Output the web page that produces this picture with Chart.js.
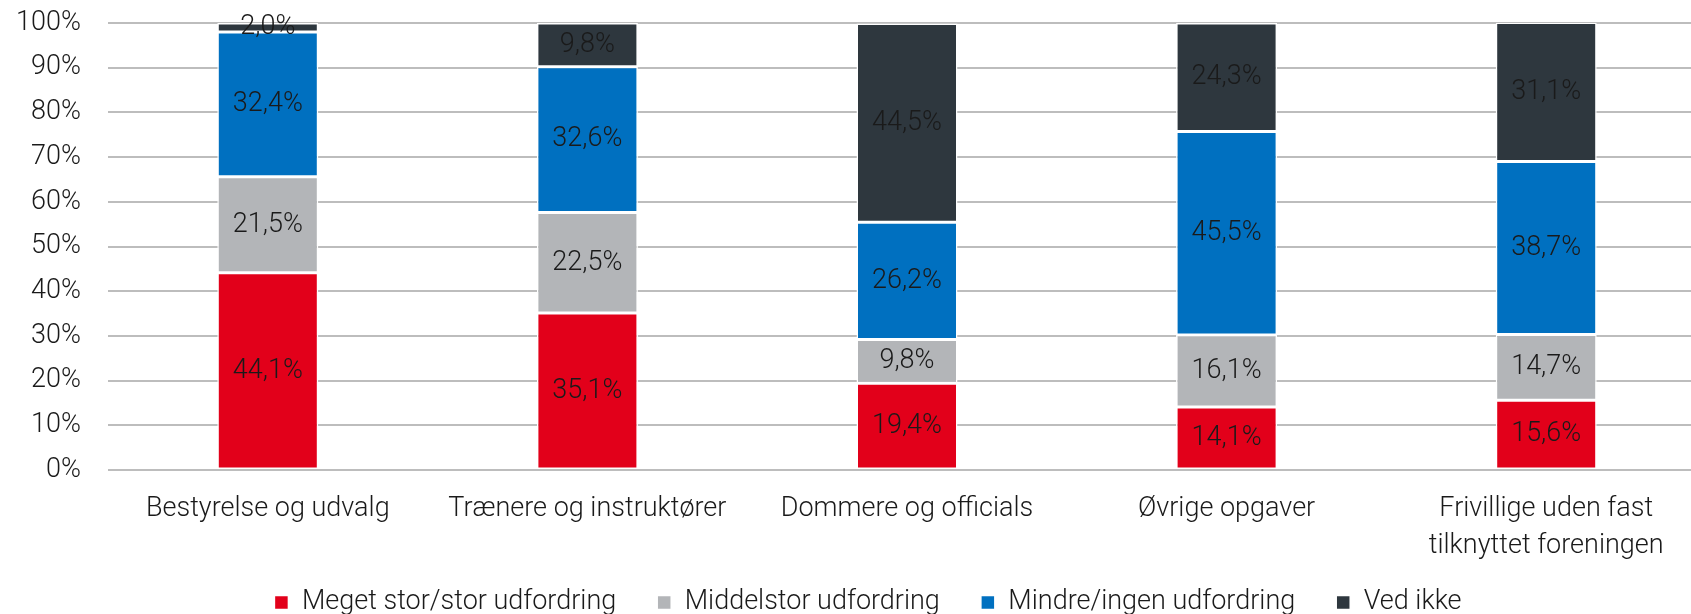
<!DOCTYPE html>
<html>
<head>
<meta charset="utf-8">
<script src="https://cdn.jsdelivr.net/npm/chart.js@4.4.1/dist/chart.umd.min.js"></script>
<style>
  html, body { margin: 0; padding: 0; background: #fff; overflow: hidden; }
  #wrap { width: 1706px; height: 614px; }
</style>
</head>
<body>
<div id="wrap"><canvas id="chart"></canvas></div>
<script>
const categories = [
  "Bestyrelse og udvalg",
  "Trænere og instruktører",
  "Dommere og officials",
  "Øvrige opgaver",
  ["Frivillige uden fast", "tilknyttet foreningen"]
];
const seriesNames = ["Meget stor/stor udfordring", "Middelstor udfordring", "Mindre/ingen udfordring", "Ved ikke"];
const storStor = [44.1, 35.1, 19.4, 14.1, 15.6];
const middelstor = [21.5, 22.5, 9.8, 16.1, 14.7];
const mindreIngen = [32.4, 32.6, 26.2, 45.5, 38.7];
const vedIkke = [2.0, 9.8, 44.5, 24.3, 31.1];
const colors = ["#e2001a", "#b3b5b8", "#0070c0", "#2e373e"];

const FONT = "Roboto";
const SIZE = 27;
const WEIGHT = 300;
const TEXT = "#1a1a1a";

const fmt = v => v.toFixed(1).replace(".", ",") + "%";

/* etiketter midt i hvert segment */
const segmentLabels = {
  id: "segmentLabels",
  beforeDraw(chart) {
    // lad aksens etiketter gå ud over aksens egen boks (to-linjers etiket)
    chart.scales.x._computeLabelArea = () => undefined;
  },
  afterDatasetsDraw(chart) {
    const ctx = chart.ctx;
    ctx.save();
    ctx.font = `${WEIGHT} ${SIZE}px ${FONT}`;
    ctx.fillStyle = TEXT;
    ctx.textAlign = "center";
    ctx.textBaseline = "middle";
    chart.data.datasets.forEach((ds, i) => {
      chart.getDatasetMeta(i).data.forEach((bar, j) => {
        const y = (bar.y + bar.base) / 2;
        ctx.fillText(fmt(ds.data[j]), bar.x, y);
      });
    });
    ctx.restore();
  }
};

/* legenden: bred vandret afstand, men lav højde */
const legendHeight = {
  id: "legendHeight",
  beforeInit(chart) {
    const legend = chart.legend;
    const fit = legend.fit;
    legend.fit = function () {
      fit.call(this);
      this.height = 66;
    };
    const draw = legend.draw;
    legend.draw = function () {
      this.ctx.save();
      this.ctx.translate(15, 0);
      draw.call(this);
      this.ctx.restore();
    };
  }
};

const series = [storStor, middelstor, mindreIngen, vedIkke];

new Chart(document.getElementById("chart"), {
  type: "bar",
  data: {
    labels: categories,
    datasets: series.map((d, i) => ({
      label: seriesNames[i],
      data: d,
      backgroundColor: colors[i],
      borderColor: "#ffffff",
      borderWidth: 1.5,
      borderSkipped: false,
      barPercentage: 0.316,
      categoryPercentage: 1
    }))
  },
  options: {
    animation: false,
    responsive: true,
    maintainAspectRatio: false,
    layout: { padding: { top: 23, left: 0, right: 0, bottom: 0 } },
    plugins: {
      tooltip: { enabled: false },
      legend: {
        position: "bottom",
        labels: {
          font: { family: FONT, size: SIZE, weight: WEIGHT },
          color: TEXT,
          boxWidth: 14,
          boxHeight: 14,
          padding: 41
        }
      }
    },
    scales: {
      x: {
        stacked: true,
        grid: { display: false, drawTicks: false },
        border: { display: false },
        afterFit: s => { s.height = 78; },
        ticks: {
          font: { family: FONT, size: SIZE, weight: WEIGHT, lineHeight: 1.4 },
          color: TEXT,
          padding: 20,
          maxRotation: 0,
          autoSkip: false
        }
      },
      y: {
        stacked: true,
        min: 0,
        max: 100,
        grid: { color: "#bdbdbd", lineWidth: 2, drawTicks: false },
        border: { display: false },
        afterFit: s => { s.width = 108; s.paddingTop = 0; s.paddingBottom = 0; },
        ticks: {
          stepSize: 10,
          font: { family: FONT, size: SIZE, weight: WEIGHT },
          color: TEXT,
          padding: 27,
          callback: v => v + "%"
        }
      }
    }
  },
  plugins: [segmentLabels, legendHeight]
});
</script>
</body>
</html>
